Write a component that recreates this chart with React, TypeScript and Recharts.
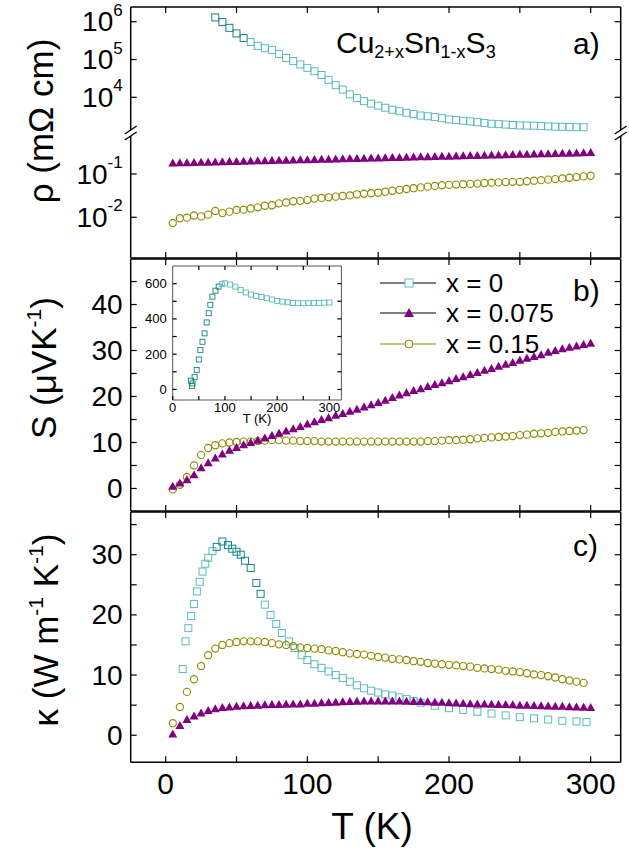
import React from "react";
import { ScatterChart, Scatter, XAxis, YAxis, ReferenceDot } from "recharts";

// ── data ───────────────────────────────────────────────────────────────────
const TEMPS = [5, 10, 15, 20, 25, 30, 35, 40, 45, 50, 55, 60, 65, 70, 75, 80, 85, 90, 95, 100, 105, 110, 115, 120, 125, 130, 135, 140, 145, 150, 155, 160, 165, 170, 175, 180, 185, 190, 195, 200, 205, 210, 215, 220, 225, 230, 235, 240, 245, 250, 255, 260, 265, 270, 275, 280, 285, 290, 295, 300];

// resistivity (mΩ cm)
const RHO0_T = [35, 40, 45, 50, 55, 60, 65, 70, 75, 80, 85, 90, 95, 100, 105, 110, 115, 120, 125, 130, 135, 140, 145, 150, 155, 160, 165, 170, 175, 180, 185, 190, 195, 200, 205, 210, 215, 220, 225, 230, 235, 240, 245, 250, 255, 260, 265, 270, 275, 280, 285, 290, 295];
const RHO0 = [1.3e6, 9.8e5, 6.9e5, 4.9e5, 3.7e5, 2.9e5, 2.3e5, 2.0e5, 1.8e5, 1.4e5, 1.1e5, 9.1e4, 7.4e4, 6.0e4, 4.9e4, 3.9e4, 2.9e4, 2.1e4, 1.6e4, 1.2e4, 9.6e3, 7.9e3, 6.8e3, 6.0e3, 5.3e3, 4.7e3, 4.3e3, 3.9e3, 3.6e3, 3.3e3, 3.15e3, 3.0e3, 2.8e3, 2.6e3, 2.5e3, 2.4e3, 2.3e3, 2.2e3, 2.1e3, 2.0e3, 1.95e3, 1.9e3, 1.85e3, 1.8e3, 1.79e3, 1.78e3, 1.74e3, 1.7e3, 1.68e3, 1.66e3, 1.64e3, 1.62e3, 1.62e3];
const RHO075 = [0.18, 0.182, 0.183, 0.185, 0.187, 0.188, 0.19, 0.192, 0.194, 0.195, 0.197, 0.199, 0.201, 0.203, 0.205, 0.207, 0.208, 0.21, 0.212, 0.214, 0.216, 0.218, 0.22, 0.222, 0.224, 0.227, 0.229, 0.231, 0.233, 0.235, 0.237, 0.24, 0.242, 0.244, 0.246, 0.249, 0.251, 0.253, 0.256, 0.258, 0.261, 0.263, 0.266, 0.268, 0.271, 0.273, 0.276, 0.278, 0.281, 0.284, 0.286, 0.289, 0.292, 0.295, 0.297, 0.3, 0.303, 0.306, 0.309, 0.312];
const RHO15 = [0.0074, 0.0095, 0.0098, 0.011, 0.0105, 0.0115, 0.014, 0.0125, 0.0135, 0.0148, 0.015, 0.016, 0.017, 0.0185, 0.019, 0.021, 0.022, 0.0235, 0.024, 0.025, 0.027, 0.028, 0.029, 0.03, 0.031, 0.032, 0.034, 0.035, 0.036, 0.037, 0.039, 0.041, 0.043, 0.045, 0.047, 0.049, 0.051, 0.053, 0.055, 0.056, 0.057, 0.058, 0.059, 0.06, 0.062, 0.063, 0.064, 0.065, 0.066, 0.066, 0.068, 0.07, 0.072, 0.074, 0.076, 0.079, 0.082, 0.085, 0.088, 0.091];

// Seebeck (µV/K)
const S075 = [0.5, 1.2, 1.9, 3, 4.5, 5.6, 6.6, 7.5, 8.3, 8.9, 9.5, 10, 10.5, 11, 11.5, 12, 12.5, 13, 13.5, 14, 14.5, 15, 15.4, 15.9, 16.3, 16.8, 17.2, 17.7, 18.2, 18.7, 19.2, 19.8, 20.3, 20.8, 21.3, 21.7, 22.2, 22.6, 23, 23.4, 23.9, 24.3, 24.8, 25.2, 25.7, 26.1, 26.6, 27, 27.4, 27.9, 28.3, 28.7, 29.1, 29.6, 30, 30.4, 30.7, 31, 31.3, 31.6];
const S15 = [-0.2, 0.8, 2.5, 5, 7.3, 8.8, 9.4, 9.8, 10, 10.1, 10.2, 10.2, 10.3, 10.4, 10.5, 10.5, 10.4, 10.4, 10.3, 10.3, 10.3, 10.2, 10.2, 10.2, 10.2, 10.2, 10.2, 10.2, 10.2, 10.2, 10.2, 10.2, 10.2, 10.2, 10.2, 10.2, 10.3, 10.3, 10.4, 10.5, 10.5, 10.6, 10.7, 10.9, 11, 11.1, 11.2, 11.3, 11.4, 11.6, 11.7, 11.9, 12, 12.1, 12.3, 12.4, 12.5, 12.6, 12.7, 12.8];
// inset: x = 0
const INSET_T = [35, 37, 38, 42, 46, 50, 53, 57, 61, 65, 69, 72, 76, 82, 88, 94, 100, 110, 120, 130, 140, 150, 160, 170, 180, 190, 200, 210, 220, 230, 240, 250, 260, 270, 280, 290, 300];
const INSET_S = [50, 20, 34, 70, 110, 170, 223, 270, 318, 380, 432, 480, 526, 560, 583, 597, 602, 595, 583, 564, 550, 538, 530, 524, 517, 510, 502, 498, 494, 490, 489, 489, 489, 490, 491, 492, 493];

// thermal conductivity (W/mK)
const K0_T = [12, 14, 16, 18, 20, 22, 24, 26, 28, 30, 33, 36, 40, 44, 47, 50, 53, 56, 60, 64, 67, 70, 74, 78, 82, 87, 91, 96, 100, 105, 110, 115, 120, 125, 130, 135, 140, 145, 150, 155, 160, 165, 170, 175, 180, 190, 200, 210, 220, 230, 240, 250, 260, 270, 280, 290, 297];
const K0 = [11, 15.6, 17.8, 19.8, 21.8, 23.9, 25.5, 27.2, 28.5, 29.5, 30.6, 31.3, 32.2, 31.6, 31, 30.5, 30, 29, 27.8, 25.3, 23.5, 21.7, 20, 18.5, 17, 15.6, 14.5, 13.3, 12.5, 11.8, 11.2, 10.6, 10, 9.5, 8.9, 8.3, 7.8, 7.4, 7.1, 6.8, 6.6, 6.3, 6.0, 5.7, 5.4, 4.9, 4.5, 4.2, 3.9, 3.6, 3.3, 3.0, 2.8, 2.6, 2.4, 2.3, 2.2];
const K075 = [0.2, 1.6, 2.6, 3.2, 3.7, 4.1, 4.4, 4.6, 4.7, 4.8, 4.9, 4.95, 5, 5.05, 5.1, 5.1, 5.15, 5.2, 5.2, 5.3, 5.3, 5.4, 5.45, 5.5, 5.55, 5.6, 5.65, 5.7, 5.7, 5.7, 5.7, 5.7, 5.7, 5.65, 5.6, 5.6, 5.55, 5.5, 5.5, 5.4, 5.35, 5.3, 5.25, 5.2, 5.2, 5.15, 5.1, 5.1, 5.05, 5.0, 5.0, 4.95, 4.9, 4.85, 4.8, 4.8, 4.75, 4.7, 4.65, 4.6];
const K15 = [2, 4.7, 7.2, 9.3, 11.5, 13.3, 14.4, 15, 15.3, 15.5, 15.6, 15.6, 15.6, 15.5, 15.3, 15.1, 15, 14.8, 14.6, 14.5, 14.4, 14.3, 14.1, 14, 13.8, 13.6, 13.5, 13.4, 13.2, 13.0, 12.9, 12.7, 12.6, 12.5, 12.3, 12.2, 12.0, 11.9, 11.8, 11.7, 11.6, 11.5, 11.4, 11.2, 11.1, 11.0, 10.9, 10.7, 10.6, 10.5, 10.3, 10.1, 10, 9.8, 9.6, 9.3, 9.1, 8.9, 8.7, 8.6];

const X_TICKS = [0, 50, 100, 150, 200, 250, 300];
const X_LABELS = [0, 100, 200, 300];

// ── styling ────────────────────────────────────────────────────────────────
const FONT = "'Liberation Sans', Arial, sans-serif";
const TEAL = "#5cbcbc";
const TEAL_DK = "#138585";
const PURPLE = "#800080";
const OLIVE = "#8c8c00";
const X_DOM: [number, number] = [-24.7, 321.2];
const AX = { stroke: "#000", strokeWidth: 1.5 };

// broken log axis for panel a: bottom segment plain log10, top segment compressed
const topT = (v: number) => 0.771 + (Math.log10(v) - 4) * 0.873;
const botT = (v: number) => Math.log10(v);

const rhoTeal = RHO0_T.map((T, i) => ({ T, y: topT(RHO0[i]), dark: T < 60 }));
const rhoPurple = TEMPS.map((T, i) => ({ T, y: botT(RHO075[i]) }));
const rhoOlive = TEMPS.map((T, i) => ({ T, y: botT(RHO15[i]) }));
const sPurple = TEMPS.map((T, i) => ({ T, y: S075[i] }));
const sOlive = TEMPS.filter((T) => T <= 297).map((T, i) => ({ T, y: S15[i] }));
const inset = INSET_T.map((T, i) => ({ T, y: INSET_S[i] }));
const kTeal = K0_T.map((T, i) => ({ T, y: K0[i], dark: T > 35 && T < 70 }));
const kPurple = TEMPS.map((T, i) => ({ T, y: K075[i] }));
const kOlive = TEMPS.filter((T) => T <= 297).map((T, i) => ({ T, y: K15[i] }));

// ── markers ────────────────────────────────────────────────────────────────
const sq = (p: any) => (
  <rect x={p.cx - 3.5} y={p.cy - 3.5} width={7} height={7} fill="none" stroke={p.payload?.dark ? TEAL_DK : TEAL} strokeWidth={1} />
);
const sqSmall = (p: any) => (
  <rect x={p.cx - 2.5} y={p.cy - 2.5} width={5} height={5} fill="none" stroke={p.payload?.T < 90 ? TEAL_DK : TEAL} strokeWidth={0.9} />
);
const tri = (p: any) => (
  <path d={`M${p.cx},${p.cy - 4.5}L${p.cx + 4.5},${p.cy + 3.5}L${p.cx - 4.5},${p.cy + 3.5}Z`} fill={PURPLE} />
);
const circ = (p: any) => <circle cx={p.cx} cy={p.cy} r={3.6} fill="none" stroke={OLIVE} strokeWidth={1.1} />;
const nothing = () => <g />;

// ── inward ticks (line + optional label) ───────────────────────────────────
type Side = "left" | "right" | "bottom" | "top";
function tick(side: Side, label?: (v: number) => React.ReactNode, fs = 28, len = 6, gap = 8) {
  return (p: any) => {
    const { x, y } = p;
    const v = p.payload.value;
    const txt = label ? label(v) : null;
    if (side === "left")
      return (
        <g>
          <line x1={x} y1={y} x2={x + len} y2={y} stroke="#000" strokeWidth={1.2} />
          {txt != null && (
            <text x={x - gap} y={y} textAnchor="end" dominantBaseline="central" fontSize={fs} fontFamily={FONT} fill="#000">{txt}</text>
          )}
        </g>
      );
    if (side === "right") return <line x1={x} y1={y} x2={x - len} y2={y} stroke="#000" strokeWidth={1.2} />;
    if (side === "top") return <line x1={x} y1={y} x2={x} y2={y + len} stroke="#000" strokeWidth={1.2} />;
    return (
      <g>
        <line x1={x} y1={y} x2={x} y2={y - len} stroke="#000" strokeWidth={1.2} />
        {txt != null && (
          <text x={x} y={y + gap} textAnchor="middle" dominantBaseline="hanging" fontSize={fs} fontFamily={FONT} fill="#000">{txt}</text>
        )}
      </g>
    );
  };
}

const xLab = (v: number) => (X_LABELS.includes(v) ? String(v) : null);
const every10 = (v: number) => (v % 10 === 0 ? String(v) : null);
const pow = (e: string) => (
  <>
    10<tspan fontSize={17} dy={-12}>{e}</tspan>
  </>
);
const RHO_TICKS = [-2, -1, 0.771, 1.644, 2.517];
const RHO_LABELS: Record<string, string> = { "-2": "-2", "-1": "-1", "0.771": "4", "1.644": "5", "2.517": "6" };

function Frame({ yDom, yTicks, yLabel, xLabels }: { yDom: [number, number]; yTicks: number[]; yLabel: (v: number) => React.ReactNode; xLabels: boolean }) {
  return (
    <>
      <XAxis xAxisId="b" dataKey="T" type="number" domain={X_DOM} allowDataOverflow ticks={X_TICKS} interval={0} height={1} tickSize={0} tickMargin={0} axisLine={AX} tickLine={false} tick={tick("bottom", xLabels ? xLab : undefined, 30, 6, 10)} />
      <XAxis xAxisId="t" orientation="top" dataKey="T" type="number" domain={X_DOM} allowDataOverflow ticks={X_TICKS} interval={0} height={1} tickSize={0} tickMargin={0} axisLine={AX} tickLine={false} tick={tick("top")} />
      <YAxis yAxisId="l" dataKey="y" type="number" domain={yDom} allowDataOverflow ticks={yTicks} interval={0} width={130.7} tickSize={0} tickMargin={0} axisLine={AX} tickLine={false} tick={tick("left", yLabel)} />
      <YAxis yAxisId="r" orientation="right" dataKey="y" type="number" domain={yDom} allowDataOverflow ticks={yTicks} interval={0} width={1} tickSize={0} tickMargin={0} axisLine={AX} tickLine={false} tick={tick("right")} />
    </>
  );
}

const breakShape = (p: any) => (
  <g>
    <rect x={p.cx - 6} y={p.cy - 3} width={12} height={6} fill="#fff" />
    <line x1={p.cx - 6} y1={p.cy + 1} x2={p.cx + 6} y2={p.cy - 7} stroke="#000" strokeWidth={1.3} />
    <line x1={p.cx - 6} y1={p.cy + 7} x2={p.cx + 6} y2={p.cy - 1} stroke="#000" strokeWidth={1.3} />
  </g>
);

function VLabel({ cx, cy, size, children }: { cx: number; cy: number; size: number; children: React.ReactNode }) {
  return (
    <div style={{ position: "absolute", left: cx, top: cy, transform: "translate(-50%,-50%) rotate(-90deg)", whiteSpace: "nowrap", fontSize: size, fontFamily: FONT, lineHeight: 1 }}>
      {children}
    </div>
  );
}

const abs = (top: number, left = 0): React.CSSProperties => ({ position: "absolute", top, left });
const sup: React.CSSProperties = { fontSize: "0.6em", verticalAlign: "0.7em" };
const sub: React.CSSProperties = { fontSize: "0.6em", verticalAlign: "-0.3em" };
const S = (ids: { x: string; y: string }) => ({ xAxisId: ids.x, yAxisId: ids.y, isAnimationActive: false });
const ID = { x: "b", y: "l" };
const MIRROR = { x: "t", y: "r" };
const INSET_AX = { stroke: "#555", strokeWidth: 1 };

function LegendRow({ top, line, marker, text }: { top: number; line: string; marker: React.ReactNode; text: string }) {
  return (
    <div style={{ ...abs(top - 14, 380), display: "flex", alignItems: "center", height: 28 }}>
      <svg width={58} height={14}>
        <line x1={0} y1={7} x2={56} y2={7} stroke={line} strokeWidth={1.2} />
        {marker}
      </svg>
      <span style={{ marginLeft: 8, fontSize: 26, fontFamily: FONT, color: "#000" }}>{text}</span>
    </div>
  );
}

export default function App() {
  return (
    <div style={{ position: "absolute", top: 0, left: 0, width: 629, height: 851, background: "#fff", fontFamily: FONT }}>
      {/* panel a */}
      <div style={abs(0)}>
        <ScatterChart width={629} height={262} margin={{ top: 6, right: 7.3, bottom: 3, left: 0 }}>
          <Frame yDom={[-2.94, 2.857]} yTicks={RHO_TICKS} yLabel={(v) => pow(RHO_LABELS[String(v)])} xLabels={false} />
          <Scatter {...S(MIRROR)} data={rhoPurple} shape={nothing} />
          <Scatter {...S(ID)} data={rhoTeal} shape={sq} />
          <Scatter {...S(ID)} data={rhoPurple} shape={tri} />
          <Scatter {...S(ID)} data={rhoOlive} shape={circ} />
          <ReferenceDot xAxisId="b" yAxisId="l" x={X_DOM[0]} y={-0.053} ifOverflow="visible" shape={breakShape} />
          <ReferenceDot xAxisId="b" yAxisId="l" x={X_DOM[1]} y={-0.053} ifOverflow="visible" shape={breakShape} />
        </ScatterChart>
      </div>
      {/* panel b */}
      <div style={abs(255.3)}>
        <ScatterChart width={629} height={260} margin={{ top: 3, right: 7.3, bottom: 3, left: 0 }}>
          <Frame yDom={[-4.9, 49.9]} yTicks={[0, 5, 10, 15, 20, 25, 30, 35, 40, 45]} yLabel={every10} xLabels={false} />
          <Scatter {...S(MIRROR)} data={sPurple} shape={nothing} />
          <Scatter {...S(ID)} data={sOlive} shape={circ} />
          <Scatter {...S(ID)} data={sPurple} shape={tri} />
        </ScatterChart>
      </div>
      {/* inset */}
      <div style={abs(262, 0)}>
        <ScatterChart width={345} height={175} margin={{ top: 3, right: 2.6, bottom: 36, left: 0 }}>
          <XAxis xAxisId="b" dataKey="T" type="number" domain={[0, 323]} allowDataOverflow ticks={[0, 50, 100, 150, 200, 250, 300]} interval={0} height={1} tickSize={0} tickMargin={0} axisLine={INSET_AX} tickLine={false} tick={tick("bottom", (v) => (v % 100 === 0 ? String(v) : null), 13, 4, 2)} />
          <XAxis xAxisId="t" orientation="top" dataKey="T" type="number" domain={[0, 323]} allowDataOverflow ticks={[50, 100, 150, 200, 250, 300]} interval={0} height={1} tickSize={0} tickMargin={0} axisLine={INSET_AX} tickLine={false} tick={tick("top", undefined, 13, 4)} />
          <YAxis yAxisId="l" dataKey="y" type="number" domain={[-60, 700]} allowDataOverflow ticks={[0, 100, 200, 300, 400, 500, 600]} interval={0} width={172.7} tickSize={0} tickMargin={0} axisLine={INSET_AX} tickLine={false} tick={tick("left", (v) => (v % 200 === 0 ? String(v) : null), 13, 4, 6)} />
          <YAxis yAxisId="r" orientation="right" dataKey="y" type="number" domain={[-60, 700]} allowDataOverflow ticks={[0, 100, 200, 300, 400, 500, 600]} interval={0} width={1} tickSize={0} tickMargin={0} axisLine={INSET_AX} tickLine={false} tick={tick("right", undefined, 13, 4)} />
          <Scatter {...S(MIRROR)} data={inset} shape={nothing} />
          <Scatter {...S(ID)} data={inset} shape={sqSmall} />
        </ScatterChart>
      </div>
      <div style={{ ...abs(412, 257), transform: "translateX(-50%)", fontSize: 13, whiteSpace: "nowrap", lineHeight: 1 }}>T (K)</div>
      {/* panel c */}
      <div style={abs(508.3)}>
        <ScatterChart width={629} height={300} margin={{ top: 3, right: 7.3, bottom: 44.7, left: 0 }}>
          <Frame yDom={[-4.5, 37.1]} yTicks={[0, 5, 10, 15, 20, 25, 30, 35]} yLabel={every10} xLabels />
          <Scatter {...S(MIRROR)} data={kPurple} shape={nothing} />
          <Scatter {...S(ID)} data={kTeal} shape={sq} />
          <Scatter {...S(ID)} data={kOlive} shape={circ} />
          <Scatter {...S(ID)} data={kPurple} shape={tri} />
        </ScatterChart>
      </div>

      {/* texts */}
      <div style={{ ...abs(26, 336), fontSize: 30 }}>
        Cu<span style={sub}>2+x</span>Sn<span style={sub}>1-x</span>S<span style={sub}>3</span>
      </div>
      <div style={{ ...abs(27, 573), fontSize: 30 }}>a)</div>
      <div style={{ ...abs(274, 573), fontSize: 30 }}>b)</div>
      <div style={{ ...abs(529, 573), fontSize: 30 }}>c)</div>
      <VLabel cx={40} cy={121} size={35}>ρ (mΩ cm)</VLabel>
      <VLabel cx={42} cy={368} size={35}>S (μVK<span style={sup}>-1</span>)</VLabel>
      <VLabel cx={44} cy={630} size={35}>κ (W m<span style={sup}>-1</span> K<span style={sup}>-1</span>)</VLabel>
      <div style={{ ...abs(806, 372), transform: "translateX(-50%)", fontSize: 37, whiteSpace: "nowrap" }}>T (K)</div>

      <LegendRow top={283} line="#000" text="x = 0" marker={<rect x={25} y={3} width={8} height={8} fill="#fff" stroke={TEAL} />} />
      <LegendRow top={313} line="#000" text="x = 0.075" marker={<path d="M29,2L34,11L24,11Z" fill={PURPLE} />} />
      <LegendRow top={344} line={OLIVE} text="x = 0.15" marker={<circle cx={29} cy={7} r={4} fill="#fff" stroke={OLIVE} />} />
    </div>
  );
}
